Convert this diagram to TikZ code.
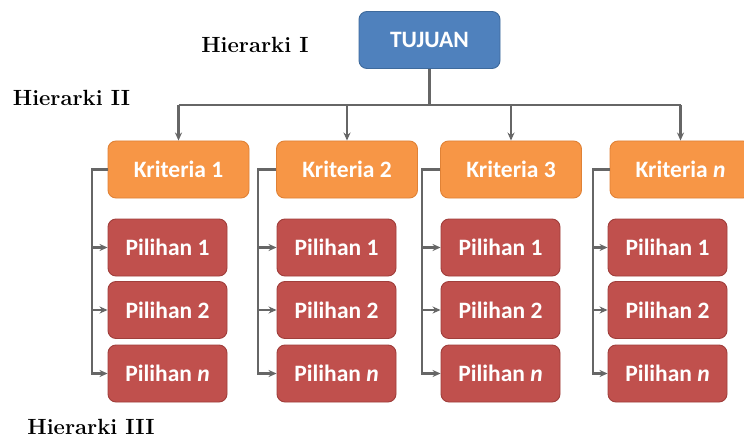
\documentclass[tikz,border=0pt]{standalone}
\usepackage{fontspec}
\newfontfamily\boxfont{Carlito}
\usetikzlibrary{arrows.meta}
\definecolor{tujuanblue}{HTML}{4F81BD}
\definecolor{tujuanedge}{HTML}{3E6A9C}
\definecolor{kritorange}{HTML}{F79646}
\definecolor{kritedge}{HTML}{E08236}
\definecolor{pilred}{HTML}{C0504D}
\definecolor{piledge}{HTML}{A03E3B}
\definecolor{linegray}{HTML}{666666}
\tikzset{
  box/.style={rounded corners=8pt, minimum height=57pt, inner sep=0pt, text=white,
    font=\boxfont\bfseries\fontsize{23.5}{23.5}\selectfont, line width=0.9pt},
  goal/.style={box, fill=tujuanblue, draw=tujuanedge, minimum width=141pt},
  crit/.style={box, fill=kritorange, draw=kritedge, minimum width=141pt},
  alt/.style={box, fill=pilred, draw=piledge, minimum width=119pt},
  conn/.style={draw=linegray, line width=2.2pt},
  arr/.style={conn, -{Stealth[length=8pt,width=7pt]}},
  lvl/.style={font=\bfseries\fontsize{22}{22}\selectfont, inner sep=0pt}
}
\begin{document}
\begin{tikzpicture}[x=1pt,y=-1pt]
\clip (0,0) rectangle (744,441);
\useasboundingbox (0,0) rectangle (744,441);
\fill[white] (0,0) rectangle (744,441);

\node[goal] (goal) at (429.5,40) {TUJUAN};

\node[crit] (k1) at (178.5,169.5) {Kriteria 1};
\node[crit] (k2) at (347,169.5) {Kriteria 2};
\node[crit] (k3) at (511,169.5) {Kriteria 3};
\node[crit] (k4) at (680.5,169.5) {Kriteria {\itshape n}};

\foreach \c/\x in {1/167.5,2/336.5,3/500.5,4/667.5}{
  \node[alt] (p\c a) at (\x,247.5) {Pilihan 1};
  \node[alt] (p\c b) at (\x,310) {Pilihan 2};
  \node[alt] (p\c c) at (\x,373.5) {Pilihan {\itshape n}};
}

\coordinate (hub) at (429.5,105);
\draw[conn] (goal.south) -- (hub);
\draw[conn] (k1.north |- hub) -- (k4.north |- hub);
\foreach \k in {k1,k2,k3,k4}{
  \draw[arr] (\k.north |- hub) -- (\k.north);
}

\foreach \c/\sx in {1/92,2/258,3/422,4/593}{
  \coordinate (s\c) at (\sx,169.5);
  \draw[arr] (k\c.west) -- (s\c) |- (p\c c.west);
  \draw[arr] (s\c |- p\c a.west) -- (p\c a.west);
  \draw[arr] (s\c |- p\c b.west) -- (p\c b.west);
}

\node[lvl] (h1) at (255,45) {Hierarki I};
\node[lvl] (h2) at (71.5,98) {Hierarki II};
\node[lvl] (h3) at (91,427) {Hierarki III};
\end{tikzpicture}
\end{document}
